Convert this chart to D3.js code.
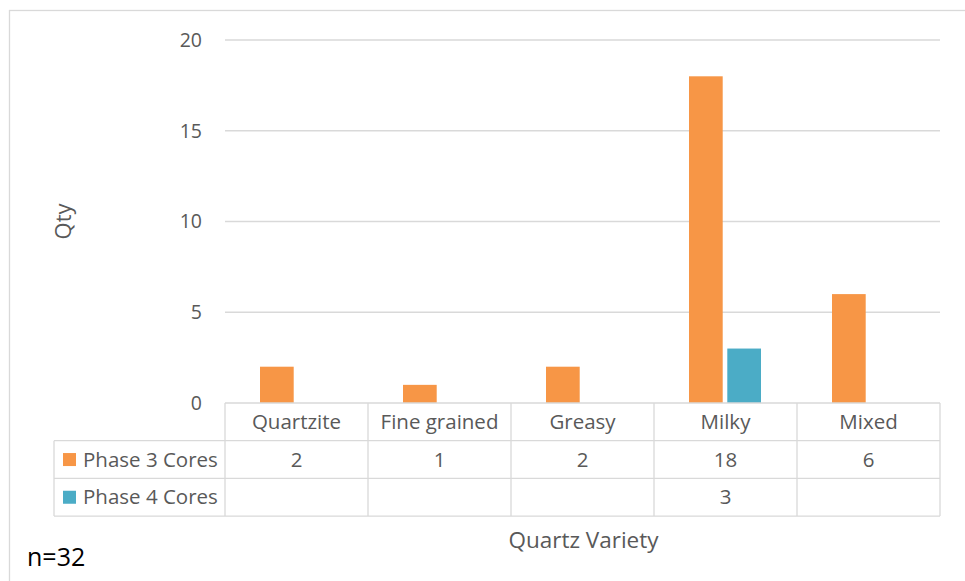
<!DOCTYPE html>
<html>
<head>
<meta charset="utf-8">
<script src="https://cdn.jsdelivr.net/npm/d3@7"></script>
<style>
  body { margin: 0; background: #fff; }
  text { font-family: "Open Sans", "Noto Sans", sans-serif; }
</style>
</head>
<body>
<div id="chart"></div>
<script>
const categories = ["Quartzite", "Fine grained", "Greasy", "Milky", "Mixed"];
const seriesNames = ["Phase 3 Cores", "Phase 4 Cores"];
const phase3 = [2, 1, 2, 18, 6];
const phase4 = [null, null, null, 3, null];
const yTicks = [0, 5, 10, 15, 20];

const Orange = "#F79646";
const Blue = "#4BACC6";
const gridColor = "#D9D9D9";
const textColor = "#595959";

const W = 965, H = 581;
const plot = { left: 225, right: 940, top: 40, bottom: 403 };
const rowH = 37.7;
const tableLeft = 54;

const svg = d3.select("#chart").append("svg")
  .attr("width", W).attr("height", H);

// outer chart border
svg.append("rect")
  .attr("x", 9.5).attr("y", 10.5)
  .attr("width", W + 10).attr("height", H + 10)
  .attr("fill", "none").attr("stroke", gridColor).attr("stroke-width", 1.3);

const x = d3.scaleBand().domain(categories).range([plot.left, plot.right]);
const xInner = d3.scaleBand().domain(seriesNames).range([35, 107]).paddingInner(0.12);
const y = d3.scaleLinear().domain([0, 20]).range([plot.bottom, plot.top]);

// gridlines
svg.append("g").selectAll("line").data(yTicks.filter(d => d > 0)).enter()
  .append("line")
  .attr("x1", plot.left).attr("x2", plot.right)
  .attr("y1", d => y(d)).attr("y2", d => y(d))
  .attr("stroke", gridColor).attr("stroke-width", 1.3);

// y tick labels
svg.append("g").selectAll("text").data(yTicks).enter()
  .append("text")
  .attr("x", 202).attr("y", d => y(d))
  .attr("dy", "0.35em").attr("text-anchor", "end")
  .attr("fill", textColor).style("font-size", "19.5px")
  .text(d => d);

// bars
const series = [
  { name: seriesNames[0], values: phase3, color: Orange },
  { name: seriesNames[1], values: phase4, color: Blue },
];
series.forEach(function (s) {
  svg.append("g").selectAll("rect")
    .data(categories.map((c, i) => ({ cat: c, value: s.values[i] })).filter(d => d.value != null))
    .enter().append("rect")
    .attr("x", d => x(d.cat) + xInner(s.name))
    .attr("y", d => y(d.value))
    .attr("width", xInner.bandwidth())
    .attr("height", d => plot.bottom - y(d.value))
    .attr("fill", s.color);
});

// data table
const table = svg.append("g")
  .attr("stroke", gridColor).attr("stroke-width", 1.3).attr("fill", "none");
const tBottom = plot.bottom + rowH * 3;
// horizontal lines
table.append("line").attr("x1", plot.left).attr("x2", plot.right)
  .attr("y1", plot.bottom).attr("y2", plot.bottom);
[1, 2, 3].forEach(function (r) {
  table.append("line").attr("x1", tableLeft).attr("x2", plot.right)
    .attr("y1", plot.bottom + rowH * r).attr("y2", plot.bottom + rowH * r);
});
// vertical lines
table.append("line").attr("x1", tableLeft).attr("x2", tableLeft)
  .attr("y1", plot.bottom + rowH).attr("y2", tBottom);
categories.forEach(function (c) {
  table.append("line").attr("x1", x(c)).attr("x2", x(c))
    .attr("y1", plot.bottom).attr("y2", tBottom);
});
table.append("line").attr("x1", plot.right).attr("x2", plot.right)
  .attr("y1", plot.bottom).attr("y2", tBottom);

// category labels
svg.append("g").selectAll("text").data(categories).enter()
  .append("text")
  .attr("x", d => x(d) + x.bandwidth() / 2)
  .attr("y", plot.bottom + rowH / 2)
  .attr("dy", "0.35em").attr("text-anchor", "middle")
  .attr("fill", textColor).style("font-size", "20.5px")
  .text(d => d);

// series rows
series.forEach(function (s, r) {
  const cy = plot.bottom + rowH * (r + 1) + rowH / 2;
  svg.append("rect")
    .attr("x", 63).attr("y", cy - 6.5)
    .attr("width", 13).attr("height", 13)
    .attr("fill", s.color);
  svg.append("text")
    .attr("x", 83).attr("y", cy).attr("dy", "0.35em")
    .attr("fill", textColor).style("font-size", "20.5px")
    .text(s.name);
  svg.append("g").selectAll("text")
    .data(categories.map((c, i) => ({ cat: c, value: s.values[i] })).filter(d => d.value != null))
    .enter().append("text")
    .attr("x", d => x(d.cat) + x.bandwidth() / 2)
    .attr("y", cy).attr("dy", "0.35em").attr("text-anchor", "middle")
    .attr("fill", textColor).style("font-size", "20.5px")
    .text(d => d.value);
});

// axis titles
svg.append("text")
  .attr("transform", "translate(71," + ((plot.top + plot.bottom) / 2) + ") rotate(-90)")
  .attr("text-anchor", "middle")
  .attr("fill", textColor).style("font-size", "22px")
  .text("Qty");

svg.append("text")
  .attr("x", (plot.left + plot.right) / 2 + 1).attr("y", 548)
  .attr("text-anchor", "middle")
  .attr("fill", textColor).style("font-size", "22.5px")
  .text("Quartz Variety");

svg.append("text")
  .attr("x", 27).attr("y", 566)
  .attr("fill", "#000").style("font-size", "25px")
  .text("n=32");
</script>
</body>
</html>
